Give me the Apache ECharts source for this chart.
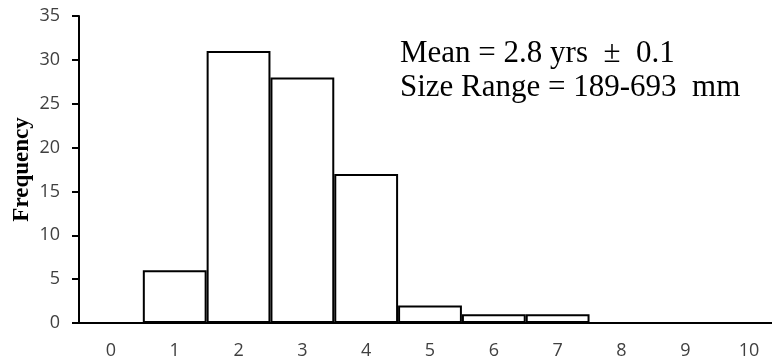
<!DOCTYPE html>
<html><head><meta charset="utf-8">
<script src="https://cdn.jsdelivr.net/npm/echarts@6/dist/echarts.min.js"></script>
<style>html,body{margin:0;padding:0;background:#fff}#c{width:772px;height:364px}</style>
</head><body><div id="c"></div>
<script>
const categories = ['0','1','2','3','4','5','6','7','8','9','10'];
const frequency = [0, 6, 31, 28, 17, 2, 1, 1, 0, 0, 0];
const yTicks = {min: 0, max: 35, interval: 5};
const annotation = ['Mean = 2.8 yrs  \u00B1  0.1', 'Size Range = 189-693  mm'];

const chart = echarts.init(document.getElementById('c'));
chart.setOption({
  animation: false,
  grid: {left: 79, top: 16, width: 702, height: 307, containLabel: false, outerBoundsMode: 'none'},
  xAxis: {
    type: 'category', data: categories,
    axisLine: {lineStyle: {color: '#000', width: 2}},
    axisTick: {alignWithLabel: true, length: 5, lineStyle: {color: '#000', width: 2}},
    axisLabel: {color: '#404040', fontFamily: 'Open Sans', fontSize: 18, margin: 19}
  },
  yAxis: {
    type: 'value', min: yTicks.min, max: yTicks.max, interval: yTicks.interval,
    name: 'Frequency', nameLocation: 'middle', nameGap: 45, nameRotate: 90, nameMoveOverlap: false,
    nameTextStyle: {fontFamily: 'Liberation Serif', fontWeight: 'bold', fontSize: 23, color: '#000'},
    axisLine: {show: true, lineStyle: {color: '#000', width: 2}},
    axisTick: {show: true, length: 7, lineStyle: {color: '#000', width: 2}},
    splitLine: {show: false},
    axisLabel: {color: '#404040', fontFamily: 'Open Sans', fontSize: 18, margin: 19}
  },
  series: [{
    type: 'bar', data: frequency, barCategoryGap: '0%',
    itemStyle: {color: '#fff', borderColor: '#000', borderWidth: 2}
  }],
  graphic: [{
    type: 'text', left: 400, top: 37,
    style: {text: annotation.join('\n'), font: '31px "Liberation Serif"', fill: '#000', lineHeight: 34}
  }]
});
</script></body></html>
